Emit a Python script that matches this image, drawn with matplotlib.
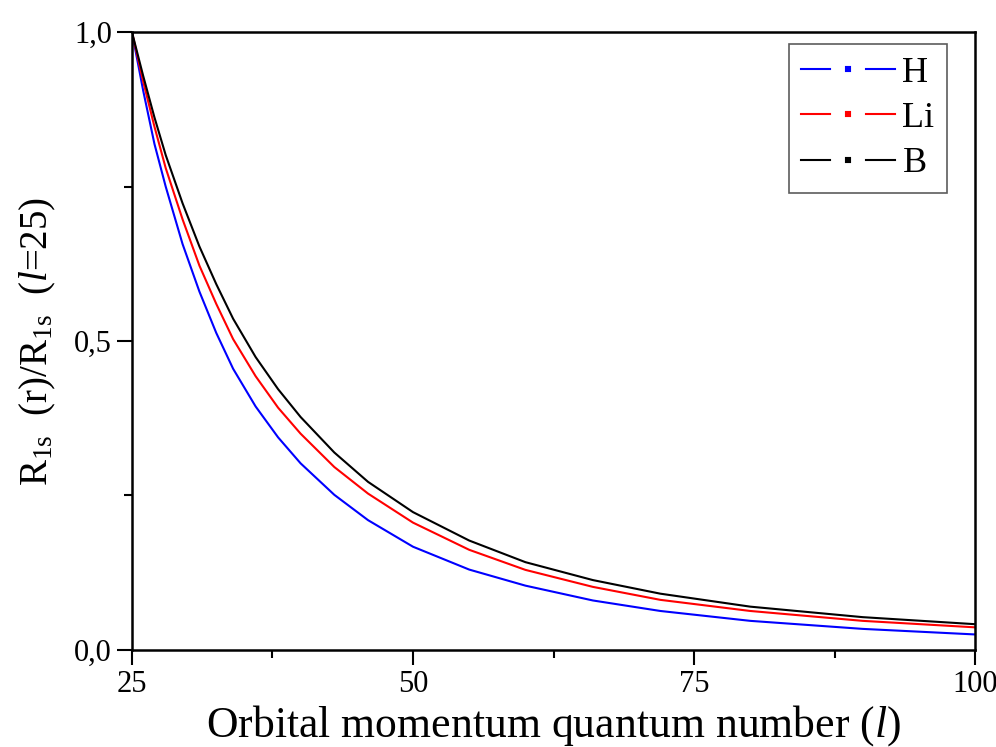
import matplotlib
matplotlib.use('Agg')
import matplotlib.pyplot as plt
from matplotlib.lines import Line2D
from matplotlib.ticker import MultipleLocator

plt.rcParams['font.family'] = 'Liberation Serif'
plt.rcParams['mathtext.fontset'] = 'custom'
plt.rcParams['mathtext.rm'] = 'Liberation Serif'
plt.rcParams['mathtext.it'] = 'Liberation Serif:italic'

# values
l_vals = [25, 26, 27, 28, 29.5, 31, 32.5, 34, 36, 38, 40, 43, 46, 50, 55, 60, 66, 72, 80, 90, 100]
h_r = [1.0, 0.905, 0.819, 0.750, 0.657, 0.580, 0.513, 0.455, 0.394, 0.344, 0.302,
       0.251, 0.210, 0.167, 0.130, 0.104, 0.080, 0.063, 0.047, 0.034, 0.025]
li_r = [1.0, 0.920, 0.847, 0.780, 0.697, 0.622, 0.560, 0.503, 0.443, 0.392, 0.350,
        0.296, 0.253, 0.206, 0.162, 0.1295, 0.102, 0.081, 0.063, 0.047, 0.0365]
b_r = [1.0, 0.929, 0.862, 0.801, 0.723, 0.653, 0.592, 0.536, 0.474, 0.422, 0.377,
       0.3195, 0.272, 0.223, 0.177, 0.142, 0.113, 0.091, 0.070, 0.053, 0.0416]

xticks = [25, 50, 75, 100]
yticks = [0.0, 0.5, 1.0]
ytick_labels = ['0,0', '0,5', '1,0']

fig = plt.figure(figsize=(9.96, 7.47), dpi=100)
ax = fig.add_axes([0.1325, 0.130, 0.8465, 0.827])

series = [(h_r, 'blue', 'H'), (li_r, 'red', 'Li'), (b_r, 'black', 'B')]
for ys, c, lab in series:
    ax.plot(l_vals, ys, color=c, lw=1.5)

ax.set_xlim(25, 100)
ax.set_ylim(0, 1)
ax.set_xticks(xticks)
ax.set_yticks(yticks)
ax.set_yticklabels(ytick_labels)
ax.xaxis.set_minor_locator(MultipleLocator(12.5))
ax.yaxis.set_minor_locator(MultipleLocator(0.25))
ax.tick_params(which='major', direction='out', length=11, width=1.5, labelsize=22, top=False, right=False)
ax.tick_params(which='minor', direction='out', length=6, width=1.5, top=False, right=False)
for s in ax.spines.values():
    s.set_linewidth(1.8)

ax.set_xlabel(r'Orbital momentum quantum number ($\it{l}$)', fontsize=31.5, labelpad=3)
ax.set_ylabel(r'R$_{\rm 1s}$  (r)/R$_{\rm 1s}$  ($\it{l}$=25)', fontsize=28)
ax.yaxis.set_label_coords(-0.088, 0.5)

handles = [Line2D([], [], color=c, lw=1.5, marker='s', ms=14, mfc=c, mec='white', mew=10)
           for _, c, _ in series]
leg = ax.legend(handles, [s[2] for s in series], loc='upper right', bbox_to_anchor=(0.967, 0.981),
                fontsize=26, frameon=True, fancybox=False, edgecolor='#333333',
                handlelength=2.6, handletextpad=0.2, labelspacing=0.33, borderpad=0.35,
                borderaxespad=0.0, numpoints=1)
leg.get_frame().set_linewidth(1.2)

fig.savefig('out.png', dpi=100)
